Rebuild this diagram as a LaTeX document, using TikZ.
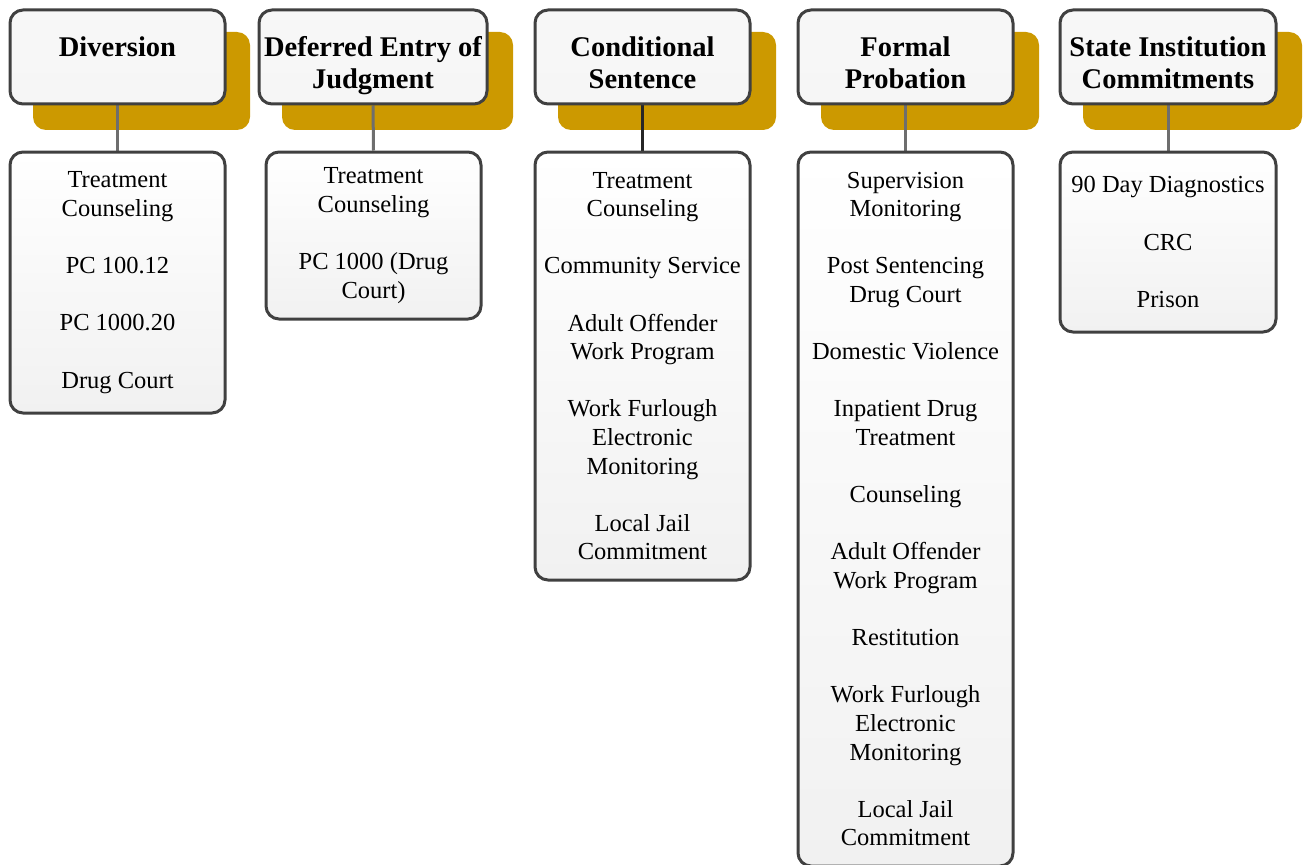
\documentclass[tikz,border=0pt]{standalone}
\usepackage{fontspec}
\setmainfont{Liberation Serif}
\usetikzlibrary{backgrounds}
\definecolor{gold}{RGB}{204,153,0}
\definecolor{edge}{RGB}{64,64,64}
\definecolor{linkgray}{RGB}{110,110,110}
\definecolor{linkdark}{RGB}{38,38,38}
\tikzset{
  shadowbox/.style={fill=gold, rounded corners=13pt, inner sep=0pt},
  titlebox/.style={draw=edge, line width=3pt, rounded corners=13pt,
    top color=gray!6, middle color=white, bottom color=gray!7, inner sep=0pt,
    font=\bfseries\fontsize{28.5}{32}\selectfont},
  listbox/.style={draw=edge, line width=3pt, rounded corners=13pt,
    top color=white, bottom color=gray!11, inner sep=0pt, align=center,
    font=\fontsize{24.5}{28.6}\selectfont},
  link/.style={draw=linkgray, line width=3pt},
  darklink/.style={draw=linkdark, line width=3pt}
}
\newcommand{\ttl}[2]{\parbox[c][94pt][t]{#1}{\centering\rule{0pt}{47pt}#2}}
\begin{document}
\begin{tikzpicture}[x=1pt,y=-1pt]
\useasboundingbox (0,0) rectangle (1308,864);
% title boxes
\node[titlebox] (t1) at (117.5,57) {\ttl{215pt}{Diversion}};
\node[titlebox] (t2) at (373,57) {\ttl{228pt}{Deferred Entry of\\Judgment}};
\node[titlebox] (t3) at (642.5,57) {\ttl{215pt}{Conditional\\Sentence}};
\node[titlebox] (t4) at (905.5,57) {\ttl{215pt}{Formal\\Probation}};
\node[titlebox] (t5) at (1168,57) {\ttl{216pt}{State Institution\\Commitments}};
% list boxes
\node[listbox, minimum width=215pt, minimum height=261pt, text depth=5pt] (l1) at (117.5,282.5)
  {Treatment\\Counseling\\[28.6pt]PC 100.12\\[28.6pt]PC 1000.20\\[28.6pt]Drug Court};
\node[listbox, minimum width=215pt, minimum height=167pt, text depth=5pt] (l2) at (373.5,235.5)
  {Treatment\\Counseling\\[28.6pt]PC 1000 (Drug\\Court)};
\node[listbox, minimum width=215pt, minimum height=428pt] (l3) at (642.5,366)
  {Treatment\\Counseling\\[28.6pt]Community Service\\[28.6pt]Adult Offender\\Work Program\\[28.6pt]Work Furlough\\Electronic\\Monitoring\\[28.6pt]Local Jail\\Commitment};
\node[listbox, minimum width=215pt, minimum height=714pt] (l4) at (905.5,509)
  {Supervision\\Monitoring\\[28.6pt]Post Sentencing\\Drug Court\\[28.6pt]Domestic Violence\\[28.6pt]Inpatient Drug\\Treatment\\[28.6pt]Counseling\\[28.6pt]Adult Offender\\Work Program\\[28.6pt]Restitution\\[28.6pt]Work Furlough\\Electronic\\Monitoring\\[28.6pt]Local Jail\\Commitment};
\node[listbox, minimum width=216pt, minimum height=180pt] (l5) at (1168,242)
  {90 Day Diagnostics\\[28.6pt]CRC\\[28.6pt]Prison};
\begin{scope}[on background layer]
  \node[shadowbox, minimum width=217pt, minimum height=98pt] (s1) at (141.5,81) {};
  \node[shadowbox, minimum width=231pt, minimum height=98pt] (s2) at (397.5,81) {};
  \node[shadowbox, minimum width=218pt, minimum height=98pt] (s3) at (667,81) {};
  \node[shadowbox, minimum width=218pt, minimum height=98pt] (s4) at (930,81) {};
  \node[shadowbox, minimum width=219pt, minimum height=98pt] (s5) at (1192.5,81) {};
  \draw[link] (t1.south) -- (l1.north);
  \draw[link] (t2.south) -- (l2.north);
  \draw[darklink] (t3.south) -- (l3.north);
  \draw[link] (t4.south) -- (l4.north);
  \draw[link] (t5.south) -- (l5.north);
\end{scope}
\end{tikzpicture}
\end{document}
